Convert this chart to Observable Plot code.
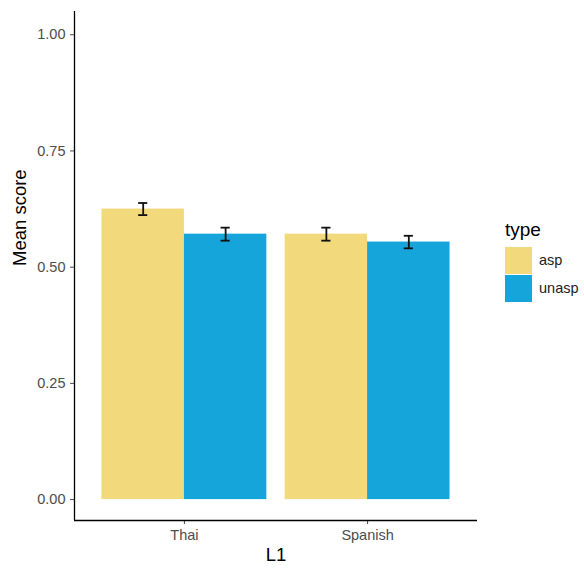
<!DOCTYPE html>
<html>
<head>
<meta charset="utf-8">
<script src="https://cdn.jsdelivr.net/npm/d3@7"></script>
<script src="https://cdn.jsdelivr.net/npm/@observablehq/plot@0.6"></script>
<style>
  html, body { margin: 0; padding: 0; background: #fff; }
  #wrap { position: relative; width: 584px; height: 570px; font-family: "Liberation Sans", Arial, sans-serif; }
  #legend { position: absolute; left: 505px; top: 219px; }
  #legend .title { font-size: 19px; color: #000; margin-bottom: 5px; }
  #legend .row { display: flex; align-items: center; height: 28px; }
  #legend .key { width: 27px; height: 27px; margin-right: 7px; }
  #legend .lab { font-size: 14.5px; color: #222; }
</style>
</head>
<body>
<div id="wrap"><div id="legend"></div></div>
<script>
// Data
const L1 = ["Thai", "Spanish"];
const types = ["asp", "unasp"];
const meanAsp = [0.625, 0.571];
const meanUnasp = [0.571, 0.554];
const seAsp = [0.013, 0.014];
const seUnasp = [0.014, 0.0135];
const yTicks = [0, 0.25, 0.5, 0.75, 1];
const colors = ["#f2d97c", "#16a5da"];

const rows = [];
L1.forEach((g, i) => {
  rows.push({L1: g, type: "asp", mean: meanAsp[i], se: seAsp[i]});
  rows.push({L1: g, type: "unasp", mean: meanUnasp[i], se: seUnasp[i]});
});

// ggplot-like dodge: bars of total width 0.9 per group, split in two
const dodge = 0.45;
const pos = d => L1.indexOf(d.L1) + 1 + (types.indexOf(d.type) - 0.5) * dodge;
const cap = 0.025;

const plot = Plot.plot({
  width: 584,
  height: 570,
  marginLeft: 74,
  marginRight: 107,
  marginTop: 11,
  marginBottom: 50,
  style: {fontFamily: "Liberation Sans, Arial, sans-serif", color: "#333", background: "transparent"},
  x: {domain: [0.4, 2.6]},
  y: {domain: [-0.045, 1.05]},
  color: {domain: types, range: colors},
  marks: [
    Plot.rectY(rows, {x1: d => pos(d) - dodge / 2, x2: d => pos(d) + dodge / 2, y1: 0, y2: "mean", fill: "type"}),
    Plot.ruleX(rows, {x: pos, y1: d => d.mean - d.se, y2: d => d.mean + d.se, stroke: "#111", strokeWidth: 1.8}),
    Plot.ruleY(rows, {x1: d => pos(d) - cap, x2: d => pos(d) + cap, y: d => d.mean + d.se, stroke: "#111", strokeWidth: 1.8}),
    Plot.ruleY(rows, {x1: d => pos(d) - cap, x2: d => pos(d) + cap, y: d => d.mean - d.se, stroke: "#111", strokeWidth: 1.8}),
    Plot.axisX({ticks: [1, 2], tickFormat: d => L1[d - 1], tickSize: 4, tickPadding: 5, fontSize: 14.5, label: null, color: "#4d4d4d"}),
    Plot.axisY({ticks: yTicks, tickFormat: d3.format(".2f"), tickSize: 4, tickPadding: 5, fontSize: 14.5, label: null, color: "#4d4d4d"}),
    Plot.ruleY([-0.045], {stroke: "#000", strokeWidth: 1.3}),
    Plot.ruleX([0.4], {stroke: "#000", strokeWidth: 1.3}),
    Plot.text(["Mean score"], {frameAnchor: "left", rotate: -90, dx: -54, fontSize: 18.5, fill: "#000"}),
    Plot.text(["L1"], {frameAnchor: "bottom", dy: 40, fontSize: 18.5, fill: "#000"})
  ]
});
document.getElementById("wrap").prepend(plot);

const legend = document.getElementById("legend");
const t = document.createElement("div");
t.className = "title"; t.textContent = "type";
legend.appendChild(t);
types.forEach((ty, i) => {
  const r = document.createElement("div"); r.className = "row";
  const k = document.createElement("div"); k.className = "key"; k.style.background = colors[i];
  const l = document.createElement("span"); l.className = "lab"; l.textContent = ty;
  r.appendChild(k); r.appendChild(l); legend.appendChild(r);
});
</script>
</body>
</html>
